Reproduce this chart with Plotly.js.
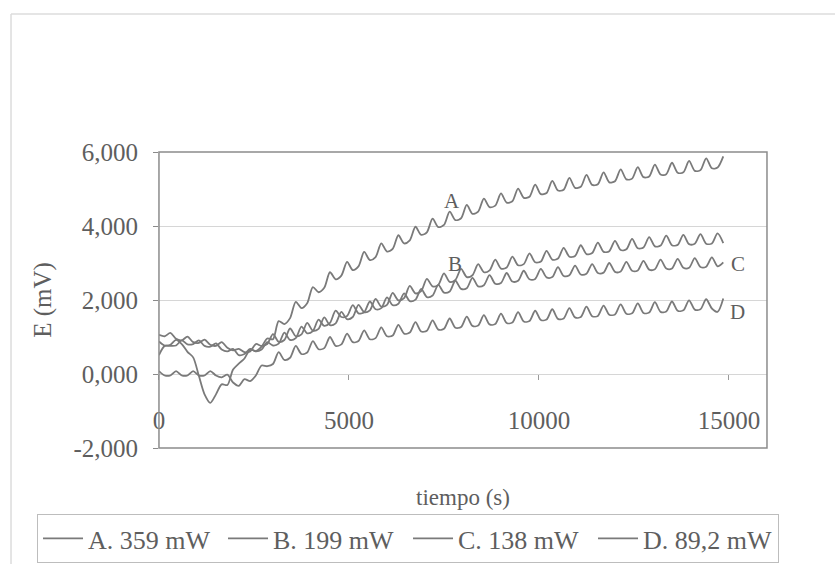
<!DOCTYPE html>
<html><head><meta charset="utf-8">
<script src="https://cdn.plot.ly/plotly-3.0.1.min.js"></script>
<style>html,body{margin:0;padding:0;background:#fff}#chart{width:835px;height:564px}</style>
</head><body><div id="chart"></div>
<script>
const tiempo = [0,150,300,450,600,750,900,1050,1200,1350,1500,1650,1800,1950,2100,2250,2400,2550,2700,2850,3000,3150,3300,3450,3600,3750,3900,4050,4200,4350,4500,4650,4800,4950,5100,5250,5400,5550,5700,5850,6000,6150,6300,6450,6600,6750,6900,7050,7200,7350,7500,7650,7800,7950,8100,8250,8400,8550,8700,8850,9000,9150,9300,9450,9600,9750,9900,10050,10200,10350,10500,10650,10800,10950,11100,11250,11400,11550,11700,11850,12000,12150,12300,12450,12600,12750,12900,13050,13200,13350,13500,13650,13800,13950,14100,14250,14400,14550,14700,14850];

const serieA = [0.88,0.77,0.79,0.92,0.81,0.60,0.45,-0.05,-0.55,-0.78,-0.55,-0.28,-0.30,0.12,0.28,0.42,0.66,0.62,0.74,0.96,0.94,
1.43,1.35,1.51,1.95,1.78,1.91,2.35,2.21,2.33,2.75,2.56,2.66,3.03,2.81,2.91,3.30,3.08,3.16,3.53,3.31,3.38,3.75,3.53,3.61,3.98,3.76,3.83,4.20,3.97,4.03,4.39,4.16,4.21,4.57,4.33,4.39,4.74,4.51,4.55,4.88,4.63,4.67,5.01,4.76,4.79,5.12,4.86,4.89,5.22,4.96,4.98,5.30,5.03,5.06,5.38,5.11,5.13,5.45,5.18,5.21,5.53,5.26,5.28,5.59,5.32,5.34,5.66,5.39,5.40,5.71,5.44,5.45,5.76,5.49,5.51,5.83,5.56,5.58,5.88];

const serieB = [1.06,1.02,1.11,0.95,0.91,1.01,0.86,0.84,0.93,0.79,0.76,0.86,0.71,0.64,0.68,0.59,0.61,0.81,0.76,0.81,
1.08,0.87,0.92,1.23,1.02,1.07,1.38,1.17,1.22,1.53,1.32,1.37,1.68,1.48,1.54,1.87,1.67,1.72,2.03,1.82,1.87,2.19,1.99,2.05,2.38,2.18,2.24,2.57,2.37,2.41,2.72,2.49,2.54,2.84,2.62,2.67,2.97,2.75,2.80,3.09,2.85,2.88,3.17,2.94,2.97,3.26,3.02,3.04,3.33,3.09,3.12,3.41,3.17,3.19,3.48,3.24,3.27,3.55,3.30,3.32,3.60,3.35,3.37,3.65,3.40,3.42,3.70,3.45,3.47,3.74,3.48,3.49,3.76,3.51,3.52,3.78,3.52,3.53,3.80,3.54];

const serieC = [0.51,0.76,0.76,0.77,0.91,0.80,0.81,0.91,0.76,0.74,0.83,0.66,0.61,0.68,0.51,0.54,0.68,0.61,0.66,0.86,
0.77,0.82,1.12,0.92,0.97,1.28,1.10,1.16,1.47,1.30,1.38,1.71,1.54,1.57,1.86,1.64,1.67,1.96,1.75,1.78,2.07,1.86,1.90,2.18,1.97,2.01,2.30,2.08,2.12,2.41,2.20,2.23,2.52,2.30,2.32,2.60,2.37,2.40,2.67,2.44,2.46,2.73,2.50,2.52,2.79,2.56,2.57,2.84,2.61,2.62,2.89,2.65,2.67,2.93,2.69,2.71,2.97,2.73,2.74,3.00,2.76,2.77,3.03,2.79,2.80,3.06,2.82,2.83,3.09,2.85,2.85,3.11,2.87,2.87,3.13,2.89,2.90,3.15,2.91,3.02];

const serieD = [0.08,-0.04,-0.04,0.08,-0.04,-0.04,0.08,-0.04,-0.04,0.08,-0.04,-0.09,-0.02,-0.23,-0.32,-0.14,-0.19,-0.04,0.23,0.21,
0.27,0.59,0.38,0.44,0.76,0.54,0.58,0.89,0.67,0.70,1.00,0.76,0.80,1.09,0.86,0.89,1.18,0.94,0.97,1.26,1.02,1.04,1.33,1.09,1.12,1.40,1.15,1.17,1.45,1.20,1.22,1.50,1.25,1.27,1.55,1.30,1.31,1.59,1.34,1.35,1.63,1.38,1.39,1.67,1.42,1.43,1.71,1.46,1.47,1.75,1.49,1.50,1.78,1.53,1.54,1.82,1.56,1.57,1.85,1.60,1.61,1.88,1.63,1.64,1.91,1.65,1.66,1.94,1.68,1.69,1.96,1.71,1.72,1.99,1.74,1.75,2.02,1.77,1.68,2.04];

const seriesNames = ["A. 359 mW", "B. 199 mW", "C. 138 mW", "D. 89,2 mW"];
const curveLabels = ["A", "B", "C", "D"];
const yTickVals = [-2, 0, 2, 4, 6];
const yTickText = ["-2,000", "0,000", "2,000", "4,000", "6,000"];
const xTickVals = [0, 5000, 10000, 15000];
const xTickText = ["0", "5000", "10000", "15000"];

const allSeries = [serieA, serieB, serieC, serieD];
const lineColor = '#7a7a7a';
const textColor = '#5e5e5e';
const FONT = 'Liberation Serif, "Times New Roman", serif';

const traces = allSeries.map((ys, i) => ({
  x: tiempo, y: ys, type: 'scatter', mode: 'lines', name: seriesNames[i],
  line: {color: lineColor, width: 1.8, shape: 'spline', smoothing: 0.8},
  hoverinfo: 'skip'
}));

const labelPos = [[7700, 4.68], [7790, 2.97], [15230, 2.97], [15230, 1.68]];
const annotations = curveLabels.map((t, i) => ({
  x: labelPos[i][0], y: labelPos[i][1], xref: 'x', yref: 'y', text: t,
  showarrow: false, font: {family: FONT, size: 21, color: textColor}
}));

const layout = {
  width: 835, height: 564,
  margin: {l: 20, r: 20, t: 152, b: 116},
  paper_bgcolor: '#fff', plot_bgcolor: '#fff',
  font: {family: FONT, size: 25, color: textColor},
  showlegend: true,
  xaxis: {
    range: [0, 16000], domain: [0.1748, 0.9396], anchor: 'free', position: 0.25,
    tickmode: 'array', tickvals: xTickVals, ticktext: xTickText,
    ticks: 'outside', ticklen: 5, tickcolor: '#9a9a9a', tickwidth: 1,
    ticklabelstandoff: 19,
    showgrid: false, zeroline: false, showline: false,
    title: {text: 'tiempo (s)', font: {family: FONT, size: 23, color: textColor}, standoff: 55}
  },
  yaxis: {
    range: [-2, 6], domain: [0, 1], anchor: 'x',
    tickmode: 'array', tickvals: yTickVals, ticktext: yTickText,
    ticks: 'outside', ticklen: 5, tickcolor: '#8a8a8a',
    ticklabelstandoff: 10,
    showgrid: true, gridcolor: '#d6d6d6', gridwidth: 1,
    zeroline: false, showline: false,
    title: {text: 'E (mV)', font: {family: FONT, size: 25, color: textColor}, standoff: 14}
  },
  legend: {
    orientation: 'h', xref: 'paper', yref: 'container',
    x: 0.0214, xanchor: 'left', y: 0.0887, yanchor: 'top',
    bordercolor: '#bdbdbd', borderwidth: 1, bgcolor: '#fff',
    font: {family: FONT, size: 26, color: textColor},
    itemwidth: 40, entrywidth: 130, traceorder: 'normal'
  },
  shapes: [
    {type: 'rect', xref: 'x domain', yref: 'y domain', x0: 0, x1: 1, y0: 0, y1: 1,
     line: {color: '#8c8c8c', width: 1.5}, layer: 'above'},
    {type: 'line', xref: 'paper', yref: 'paper', x0: -0.0113, x1: 1.03, y0: 1.466, y1: 1.466,
     line: {color: '#dcdcdc', width: 1.5}},
    {type: 'line', xref: 'paper', yref: 'paper', x0: -0.0113, x1: -0.0113, y0: 1.466, y1: -0.40,
     line: {color: '#dcdcdc', width: 1.5}}
  ],
  annotations: annotations
};

Plotly.newPlot('chart', traces, layout, {displayModeBar: false, staticPlot: true});
</script>
</body></html>
